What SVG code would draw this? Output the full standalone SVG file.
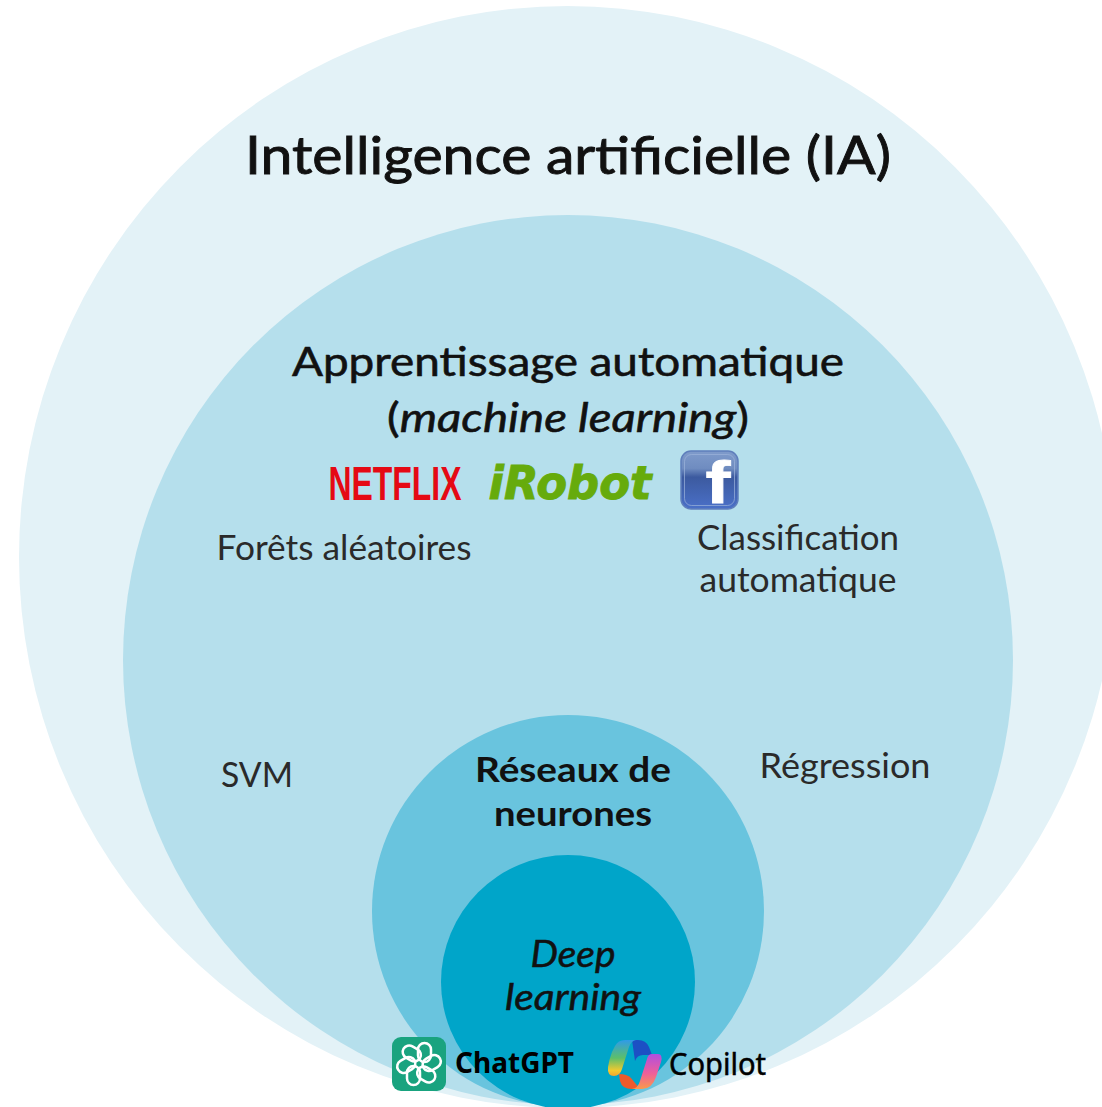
<svg xmlns="http://www.w3.org/2000/svg" width="1102" height="1107" viewBox="0 0 1102 1107">
<style>
text{font-family:"Lato","Open Sans",sans-serif;fill:#111;text-anchor:middle}
.t1{font-size:52px;stroke:#111;stroke-width:.9}
.t2{font-size:41px;stroke:#111;stroke-width:.6}
.t3{font-size:34px;fill:#2a2a2a}
.t4{font-size:35px;font-weight:700}
.t5{font-size:36px;font-style:italic;stroke:#111;stroke-width:.5}
.lg{font-family:"Noto Sans","Open Sans",sans-serif;font-size:29px;font-weight:700;fill:#000;text-anchor:start}
</style>
<defs>
<linearGradient id="fb" x1="0" y1="0" x2="0" y2="1"><stop offset="0" stop-color="#7f9bcb"/><stop offset=".3" stop-color="#6f8cc0"/><stop offset=".45" stop-color="#3c5a9f"/><stop offset="1" stop-color="#4a70c8"/></linearGradient>
<linearGradient id="cpA" x1="0" y1="0" x2="0" y2="1"><stop offset="0" stop-color="#2f9be8"/><stop offset=".5" stop-color="#5cbf6a"/><stop offset=".85" stop-color="#f2c92f"/><stop offset="1" stop-color="#f2a52f"/></linearGradient>
<linearGradient id="cpB" x1="0" y1="0" x2="0" y2="1"><stop offset="0" stop-color="#b04fe0"/><stop offset=".55" stop-color="#ee5f9a"/><stop offset="1" stop-color="#f99a4a"/></linearGradient>
<rect id="lobe" x="-1" y="-21" width="13" height="19" rx="6.500" fill="none" stroke="#fff" stroke-width="2.500"/>
</defs>
<rect width="1102" height="1107" fill="#ffffff"/>
<g id="circle-ia"><ellipse cx="567.5" cy="557" rx="548.5" ry="551" fill="#e3f2f7"/>
<text class="t1" x="568" y="174" textLength="646" lengthAdjust="spacingAndGlyphs">Intelligence artificielle (IA)</text></g>
<g id="circle-ml"><circle cx="568" cy="660" r="445" fill="#b5dfec"/>
<text class="t2" x="568" y="376" textLength="552" lengthAdjust="spacingAndGlyphs">Apprentissage automatique</text>
<text class="t2" x="568" y="432" textLength="362" lengthAdjust="spacingAndGlyphs">(<tspan font-style="italic">machine learning</tspan>)</text></g>
<g id="label-forets"><text class="t3" x="344" y="560" textLength="255" lengthAdjust="spacingAndGlyphs">Forêts aléatoires</text></g>
<g id="label-classification"><text class="t3" x="798" y="550" textLength="202" lengthAdjust="spacingAndGlyphs">Classification</text>
<text class="t3" x="798" y="592" textLength="197" lengthAdjust="spacingAndGlyphs">automatique</text></g>
<g id="label-svm"><text class="t3" x="257" y="787" textLength="72" lengthAdjust="spacingAndGlyphs">SVM</text></g>
<g id="label-regression"><text class="t3" x="845" y="778" textLength="171" lengthAdjust="spacingAndGlyphs">Régression</text></g>
<g id="circle-nn"><circle cx="568" cy="911" r="196" fill="#69c4de"/>
<text class="t4" x="573" y="782" textLength="196" lengthAdjust="spacingAndGlyphs">Réseaux de</text>
<text class="t4" x="573" y="826" textLength="158" lengthAdjust="spacingAndGlyphs">neurones</text></g>
<g id="circle-dl"><circle cx="568" cy="982" r="127" fill="#00a5c9"/>
<text class="t5" x="573" y="967" textLength="85" lengthAdjust="spacingAndGlyphs">Deep</text>
<text class="t5" x="573" y="1010" textLength="136" lengthAdjust="spacingAndGlyphs">learning</text></g>
<g id="logo-netflix"><text x="395" y="500" style="font-family:'Liberation Sans',sans-serif;font-size:49px;font-weight:700;fill:#e50914" textLength="133" lengthAdjust="spacingAndGlyphs">NETFLIX</text></g>
<g id="logo-irobot"><text x="570" y="499" style="font-family:'DejaVu Sans',sans-serif;font-size:47px;font-weight:700;font-style:italic;fill:#66ab0c;stroke:#66ab0c;stroke-width:1" textLength="163" lengthAdjust="spacingAndGlyphs">iRobot</text></g>
<g id="logo-facebook"><rect x="681" y="451" width="57" height="58" rx="10" fill="url(#fb)" stroke="#5f7fbc" stroke-width="1.5"/>
<rect x="684.500" y="454.500" width="50" height="51" rx="7" fill="none" stroke="#9db3da" stroke-width="1" opacity=".7"/>
<text x="718" y="503" style="font-family:'Liberation Sans',sans-serif;font-size:60px;font-weight:700;fill:#fff;stroke:#fff;stroke-width:.8" textLength="25" lengthAdjust="spacingAndGlyphs">f</text></g>
<g id="logo-chatgpt"><rect x="392" y="1037" width="54" height="54" rx="9" fill="#19a37f"/>
<g transform="translate(419 1064)">
<use href="#lobe"/><use href="#lobe" transform="rotate(60)"/><use href="#lobe" transform="rotate(120)"/><use href="#lobe" transform="rotate(180)"/><use href="#lobe" transform="rotate(240)"/><use href="#lobe" transform="rotate(300)"/>
</g>
<text class="lg" x="455" y="1073" textLength="119" lengthAdjust="spacingAndGlyphs">ChatGPT</text></g>
<g id="logo-copilot">
<path d="M619 1074q8 0 12 4l9 11h-8q-10 0-12-8z" fill="#ee5a2c"/>
<path d="M632 1040h6q8 0 11 7l3 8h-9q-6 0-8 6z" fill="#1c50c4"/>
<path d="M625 1040h11q-5 1-7 7l-7 22q-2 7-8 7q-7 0-6-9q1-7 4-15l3-6q3-6 10-6z" fill="url(#cpA)"/>
<path d="M647 1054h11q5 0 3 8l-5 15q-4 12-14 12h-10q6-1 8-8l7-22q1-5 5-5z" fill="url(#cpB)"/>
<text x="669" y="1075" style="font-family:'Noto Sans','Open Sans',sans-serif;font-size:31px;fill:#000;stroke:#000;stroke-width:.5;text-anchor:start" textLength="97" lengthAdjust="spacingAndGlyphs">Copilot</text></g>
</svg>
